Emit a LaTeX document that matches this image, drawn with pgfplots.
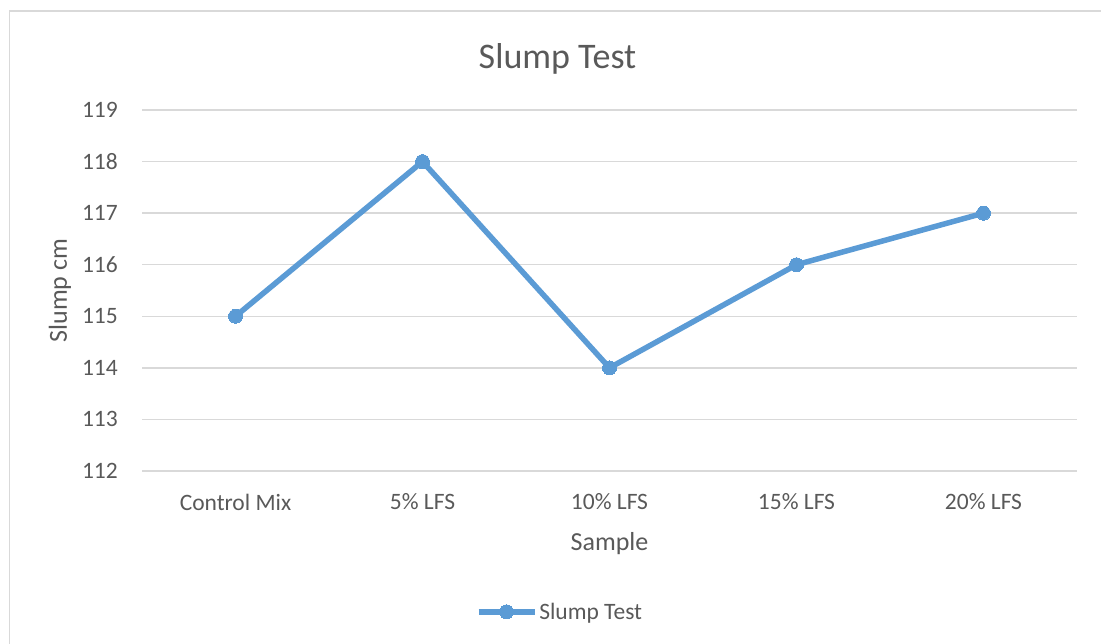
\documentclass[border=0pt]{standalone}
\usepackage{pgfplots}
\pgfplotsset{compat=1.18}
\usepackage{fontspec}
\setmainfont{Carlito}
\definecolor{txt}{HTML}{595959}
\definecolor{gridc}{HTML}{D9D9D9}
\definecolor{ser}{HTML}{5B9BD5}
\begin{document}
\begin{tikzpicture}
\useasboundingbox (0pt,0pt) rectangle (1101pt,643pt);
\draw[gridc, line width=1.3pt] (9.5pt,-10pt) -- (9.5pt,632pt) -- (1120pt,632pt);
\begin{axis}[at={(142pt,172pt)}, anchor=south west, width=935pt, height=361pt, scale only axis,
 xmin=-0.5, xmax=4.5, ymin=112, ymax=119, ytick={112,113,...,119}, xtick={0,1,2,3,4},
 xticklabels={Control Mix,5\% LFS,10\% LFS,15\% LFS,20\% LFS},
 axis line style={draw=none}, major tick style={draw=none},
 ymajorgrids, grid style={gridc, line width=1.3pt},
 ticklabel style={font=\fontsize{23.5}{28}\selectfont, text=txt},
 /pgf/number format/assume math mode=true,
 xticklabel style={anchor=center, yshift=-31pt},
 yticklabel style={anchor=east, inner sep=0pt, xshift=-24pt},
 title={Slump Test}, title style={at={(axis description cs:0.5,1)}, anchor=center, yshift=45pt, xshift=-52pt, font=\fontsize{36}{42}\selectfont, text=txt},
 xlabel={Sample}, x label style={at={(axis description cs:0.5,0)}, anchor=center, yshift=-73pt, font=\fontsize{26}{30}\selectfont, text=txt},
 ylabel={Slump cm}, y label style={at={(axis description cs:0,0.5)}, anchor=center, rotate=0, yshift=82pt, font=\fontsize{26}{30}\selectfont, text=txt},
 legend style={at={(axis description cs:0.447,-0.39)}, anchor=center, draw=none, fill=none, font=\fontsize{23.5}{28}\selectfont, text=txt, inner sep=0pt},
 legend image code/.code={\draw[#1, mark repeat=2, mark phase=2] plot coordinates {(0pt,0pt) (28pt,0pt) (56pt,0pt)};},
 clip=false]
\addplot[ser, line width=5.5pt, mark=*, mark size=7pt, mark options={fill=ser, draw=ser, line width=0pt}]
 coordinates {(0,115) (1,118) (2,114) (3,116) (4,117)};
\addlegendentry{Slump Test}
\end{axis}
\end{tikzpicture}
\end{document}
